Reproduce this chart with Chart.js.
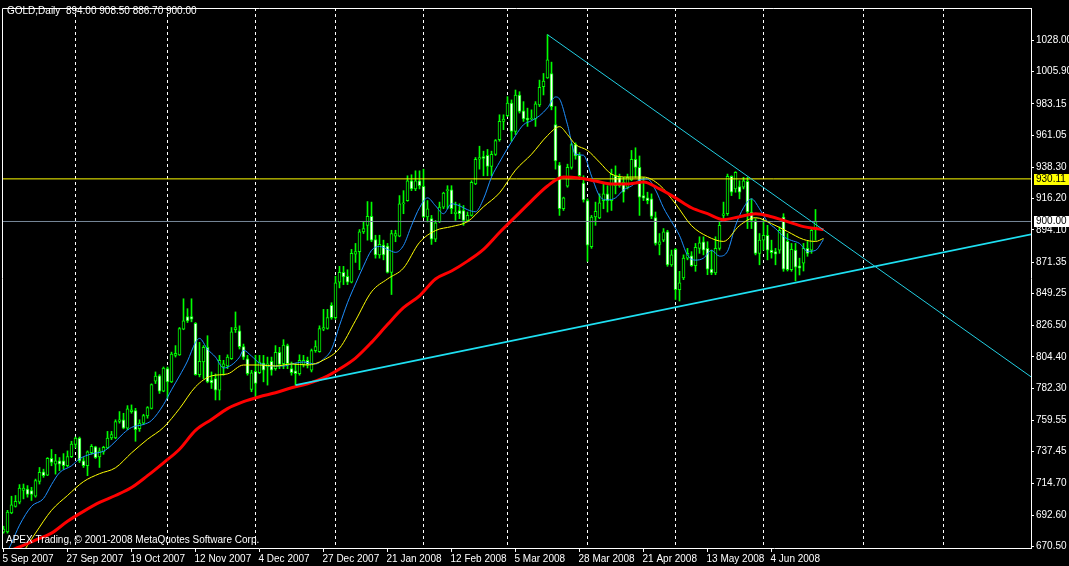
<!DOCTYPE html>
<html>
<head>
<meta charset="utf-8">
<script src="https://cdn.jsdelivr.net/npm/chart.js@4.4.0/dist/chart.umd.min.js"></script>
<style>
  html, body { margin: 0; padding: 0; background: #000; }
  canvas { display: block; }
</style>
</head>
<body>
<canvas id="chart" width="1069" height="566"></canvas>
<script>
const FONT = '"Liberation Sans", Arial, sans-serif';
const FONT_SIZE = 10;

// Daily candles, 5 Sep 2007 .. last bar
const opens = [680.5,680.7,694.0,698.7,701.7,709.9,711.0,709.9,705.9,716.4,
723.2,720.8,732.7,728.5,730.9,730.9,727.4,733.9,742.4,747.0,
730.9,727.4,736.7,740.7,733.7,737.2,740.0,747.0,747.0,758.7,
759.9,754.0,765.7,766.4,753.6,757.5,762.7,768.0,787.2,790.9,
780.2,796.0,786.7,805.4,805.8,823.9,832.8,832.8,828.1,791.8,
800.7,811.1,787.9,789.0,780.9,797.2,797.9,803.0,823.5,822.8,
811.6,803.0,781.3,794.2,793.2,800.0,797.2,801.2,796.0,807.6,
799.5,812.3,796.0,794.4,792.5,799.1,801.9,794.9,808.8,808.1,
823.9,824.4,840.7,832.1,857.1,864.1,861.3,857.1,877.0,878.7,
892.7,897.3,903.6,887.3,876.4,883.3,882.6,864.1,889.6,889.6,
912.5,914.8,928.8,923.0,928.8,924.9,903.2,902.0,887.5,899.7,
910.2,921.8,922.3,905.5,907.8,907.8,900.8,904.3,926.5,944.0,
945.9,946.8,938.9,947.4,957.9,970.7,974.7,983.6,963.7,989.4,
978.2,973.0,972.4,972.4,982.4,995.2,1001.5,1004.6,968.4,939.8,
909.0,924.9,938.2,954.4,946.8,927.2,914.8,882.2,903.2,902.5,
914.8,919.5,914.8,932.3,931.2,927.7,924.2,929.3,944.0,938.2,
918.3,916.7,916.0,902.7,883.8,886.8,892.7,869.4,880.3,851.9,
860.1,874.1,875.7,868.7,881.0,885.7,881.0,866.4,863.6,881.0,
904.3,905.5,931.9,923.0,924.6,924.2,928.4,906.7,900.4,877.5,
886.8,890.3,879.8,878.7,879.8,903.2,885.9,866.0,879.8,868.7,
870.6,881.0,879.8,894.0];

const highs = [684.7,695.9,705.9,706.4,714.1,714.5,713.4,712.2,718.0,726.2,
725.0,733.2,738.9,735.5,733.2,736.0,737.9,744.7,747.7,747.7,
733.2,737.9,742.4,741.2,740.0,741.2,751.7,751.7,759.9,765.7,
764.5,769.9,770.4,768.0,759.9,763.8,769.2,785.3,793.7,791.8,
797.2,797.2,807.7,812.3,825.1,845.4,838.4,845.4,828.6,814.6,
812.3,819.3,793.7,792.3,805.4,801.9,805.8,825.1,836.1,826.3,
813.4,805.4,794.9,805.4,805.4,805.4,804.2,804.2,812.3,811.1,
816.5,813.4,800.7,799.5,805.8,805.4,804.2,809.9,815.8,826.3,
837.9,837.9,842.6,861.3,868.3,868.3,865.9,880.3,884.5,894.3,
899.7,914.1,913.7,890.3,890.3,886.8,884.5,893.8,893.8,918.3,
921.8,932.3,933.0,935.8,935.8,937.0,914.8,904.3,900.8,913.7,
920.7,925.3,925.3,913.7,912.5,911.3,906.7,928.8,945.2,953.2,
949.7,950.9,949.7,957.9,975.4,975.4,988.2,985.9,992.9,991.7,
984.7,980.1,978.9,984.7,999.9,1004.6,1032.0,1012.6,981.2,941.7,
917.2,940.5,955.6,955.6,948.7,932.3,916.0,904.3,913.7,919.5,
926.5,925.3,937.0,939.3,933.5,931.2,933.5,950.2,952.1,946.3,
931.2,920.7,919.5,906.7,891.5,895.0,893.8,879.8,881.0,864.8,
876.4,881.0,878.7,884.5,889.2,889.2,885.7,879.8,889.2,899.7,
913.7,933.5,932.3,935.2,928.8,931.2,931.2,916.0,902.0,891.5,
900.8,897.3,886.8,881.0,896.2,905.5,891.5,884.5,884.5,874.1,
884.5,885.9,895.0,908.5];

const lows = [679.8,679.8,693.5,698.2,700.5,704.0,705.2,702.9,705.2,714.5,
719.2,720.4,727.4,721.5,723.9,725.0,726.7,733.2,740.0,729.7,
726.2,720.4,735.5,732.6,726.2,735.5,739.5,745.9,746.5,757.5,
753.5,752.9,764.5,744.7,751.7,756.4,761.0,767.5,785.5,778.5,
779.7,775.0,786.2,804.2,805.4,823.5,828.6,829.1,791.4,790.2,
789.0,786.0,782.0,773.9,773.9,791.4,796.0,802.5,821.6,809.9,
802.5,791.4,779.7,776.2,792.5,786.7,784.4,791.4,794.9,796.0,
796.0,796.0,791.4,784.4,791.4,797.2,796.5,793.7,807.6,807.6,
822.8,823.9,830.9,830.9,853.1,855.4,855.4,856.6,871.1,865.9,
891.5,886.8,885.7,874.1,874.1,872.9,863.6,848.4,885.7,889.2,
905.5,914.3,921.8,921.8,923.0,902.7,899.7,883.8,885.7,899.2,
909.0,909.0,905.5,900.8,902.0,897.3,899.7,903.8,926.0,937.0,
932.3,932.3,932.3,946.7,956.7,964.9,974.2,956.7,961.4,976.6,
970.7,967.2,971.9,967.2,981.2,989.4,1001.1,978.9,937.0,904.3,
907.8,924.2,937.0,944.0,930.0,913.7,871.8,881.0,897.3,902.0,
909.0,906.7,907.8,919.5,924.2,913.7,923.0,928.8,931.2,904.3,
914.8,912.5,902.0,883.3,876.4,885.7,868.3,868.3,844.9,843.8,
858.9,872.9,868.3,864.8,877.5,876.4,862.4,862.4,862.4,879.8,
900.8,904.3,918.3,920.7,916.0,923.0,895.0,895.0,876.4,869.4,
879.8,872.9,874.1,869.4,877.5,864.8,865.0,864.8,858.0,862.2,
865.0,875.4,877.5,886.7];

const closes = [682.6,694.7,699.8,702.2,711.7,711.7,707.1,707.1,716.9,722.7,
720.4,732.7,729.7,730.9,728.5,727.4,733.9,742.8,747.0,730.9,
727.4,737.2,741.2,733.2,737.9,740.5,747.0,749.4,758.7,759.9,
754.0,767.6,766.9,752.9,757.5,762.9,768.5,784.8,790.7,780.2,
796.5,786.7,806.4,806.9,824.4,829.8,829.8,830.9,791.8,801.2,
811.1,786.7,786.0,780.9,801.9,799.5,804.2,822.1,825.1,811.6,
804.2,792.5,793.0,785.5,800.7,794.9,799.5,794.9,807.6,799.1,
812.7,799.5,793.2,792.5,801.9,801.9,798.8,808.8,811.6,824.4,
825.1,832.1,832.1,856.6,864.1,860.8,857.1,877.5,878.7,892.7,
895.0,903.6,886.8,876.4,883.8,876.4,864.1,891.5,891.5,912.5,
913.2,928.8,923.0,928.8,925.3,903.2,909.0,887.5,899.0,910.2,
920.0,922.5,909.0,906.7,905.5,900.8,904.3,927.7,944.0,945.2,
944.5,938.9,947.4,957.2,970.7,972.4,983.6,963.7,989.4,977.7,
972.4,971.9,973.0,983.1,994.8,999.2,1014.3,981.2,942.8,909.0,
916.7,938.2,954.4,946.3,932.3,915.3,883.3,903.2,907.1,913.2,
919.5,914.8,933.3,925.3,925.3,920.7,931.2,944.0,938.2,917.2,
916.5,914.8,903.6,884.5,885.7,892.7,869.4,876.4,851.9,856.6,
874.1,877.5,868.7,881.7,885.0,879.8,866.4,863.6,881.0,897.3,
905.5,931.9,920.7,934.7,920.7,928.8,906.7,900.8,877.5,886.8,
890.3,879.8,878.0,876.9,893.8,866.4,866.0,880.3,867.8,867.1,
881.0,877.5,893.8,900.0];

// moving averages (bar index -> price)
const blueBars = [0,2,4,7,10,12,14,17,19,22,25,27,30,32,35,37,40,42,44,46,48,49,51,53,55,57,59,60,62,64,67,70,72,75,78,80,82,84,86,88,90,92,94,96,98,100,102,104,106,108,110,112,114,116,118,120,122,124,126,128,130,132,134,136,138,139,141,143,145,147,149,151,153,155,157,159,161,163,165,167,169,171,173,175,177,179,181,183,185,187,189,191,193,195,197,199,201,203,205];
const blueVals = [660.9,672.8,685.4,698.7,704.3,714.1,722.5,727.4,732.3,735.8,737.7,741.9,750.3,754.5,756.6,759.4,770.6,781.1,790.9,801.4,814.6,817.4,809.7,804.2,796.5,798.6,804.2,809.0,804.9,800.0,797.9,797.9,799.3,800.7,799.3,802.8,809.7,826.5,842.6,855.9,868.5,879.6,882.4,880.3,878.2,883.1,897.1,909.7,916.7,911.1,905.5,912.5,911.1,908.3,906.9,916.0,931.4,941.9,951.6,960.7,968.4,971.2,974.7,980.3,988.0,986.6,968.4,947.5,946.8,932.1,918.1,915.3,916.7,922.3,925.1,929.3,930.0,922.3,909.7,899.9,890.1,876.2,872.7,874.1,879.6,875.5,878.9,897.1,909.7,916.0,909.0,899.9,895.0,889.4,886.6,884.5,878.9,879.6,887.3];

const yellowBars = [0,4,8,12,16,20,24,28,32,36,40,44,48,52,56,60,64,68,72,76,80,84,88,92,96,100,104,108,112,116,120,124,128,132,136,139,141,143,146,149,152,156,160,164,168,172,176,180,184,188,192,196,200,203,205];
const yellowVals = [650.4,662.9,679.8,695.9,706.4,716.2,721.8,726.0,736.5,746.1,754.5,767.8,783.2,790.9,792.3,798.6,798.6,797.9,799.3,798.6,802.1,810.4,830.0,850.3,859.4,867.1,885.2,893.6,896.4,899.9,910.4,920.2,936.3,947.5,960.7,967.0,961.4,954.4,950.2,941.9,933.5,931.4,931.4,925.8,912.5,897.1,889.4,885.9,897.1,902.7,898.5,892.9,887.3,885.9,888.0];

const redBars = [0,4,8,12,16,20,24,28,32,36,40,44,48,52,56,60,64,68,72,76,80,84,88,92,96,100,104,108,112,116,120,124,128,132,136,140,144,148,152,156,160,164,168,172,176,180,184,188,192,196,200,203,205];
const redVals = [665.8,670.0,674.9,679.8,688.2,695.2,701.5,706.4,712.0,720.4,729.5,739.1,752.4,760.1,767.8,772.7,776.2,779.0,782.5,785.3,789.5,795.8,803.5,814.6,827.2,839.1,847.5,859.4,865.0,872.0,880.3,892.2,903.4,914.6,925.1,931.4,930.7,928.6,926.5,926.5,927.9,923.0,916.7,909.7,905.5,901.3,903.4,905.5,903.4,899.9,896.4,895.0,894.3];

// trend lines (bar index, price)
const downTrendBars = [136, 260];
const downTrendVals = [1032.0, 784.0];
const upTrendBars = [73, 260];
const upTrendVals = [784.4, 892.7];

// horizontal levels
const levelLine = 930.11;
const bidLine = 900.00;

// axes
const dateLabels = ['5 Sep 2007','27 Sep 2007','19 Oct 2007','12 Nov 2007','4 Dec 2007','27 Dec 2007','21 Jan 2008','12 Feb 2008','5 Mar 2008','28 Mar 2008','21 Apr 2008','13 May 2008','4 Jun 2008'];
const dateBars = [0,16,32,48,64,80,96,112,128,144,160,176,192];
const monthBars = [18,41,63,83,105,126,146,168,190,215,235];
const priceTicks = [670.50,692.60,714.70,737.45,759.55,782.30,804.40,826.50,849.25,871.35,894.10,916.20,938.30,961.05,983.15,1005.90,1028.00];

const xMin = -0.375, xMax = 256.875;
const yMin = 669.3, yMax = 1050.85;

const pts = (bars, vals) => bars.map((b, k) => ({ x: b, y: vals[k] }));
const idx = opens.map((_, i) => i);

const overlay = {
  id: 'overlay',
  afterDraw(chart) {
    const { ctx, chartArea: a, scales: { y } } = chart;
    ctx.save();
    ctx.strokeStyle = '#fff';
    ctx.lineWidth = 1;
    ctx.beginPath();
    ctx.moveTo(a.left + 0.5, a.bottom);
    ctx.lineTo(a.left + 0.5, a.top + 0.5);
    ctx.lineTo(a.right, a.top + 0.5);
    ctx.stroke();

    ctx.font = FONT_SIZE + 'px ' + FONT;
    ctx.fillStyle = '#fff';
    ctx.textBaseline = 'middle';
    ctx.textAlign = 'left';
    ctx.fillText('GOLD,Daily  894.00 908.50 886.70 900.00', 7, 11);
    ctx.fillText('APEX Trading, \u00a9 2001-2008 MetaQuotes Software Corp.', 6, 540);

    // price tags on the right scale
    [[levelLine, '#ffff00'], [bidLine, '#ffffff']].forEach(([v, bg]) => {
      const py = Math.round(y.getPixelForValue(v));
      ctx.fillStyle = bg;
      ctx.fillRect(a.right + 3, py - 5, 35, 11);
      ctx.fillStyle = '#000';
      ctx.fillText(v.toFixed(2), a.right + 5, py + 0.5);
    });
    ctx.restore();
  }
};

const line = (data, color, width) => ({
  type: 'line', data, borderColor: color, borderWidth: width,
  pointRadius: 0, fill: false, order: 0, tension: 0
});

new Chart(document.getElementById('chart'), {
  type: 'bar',
  data: {
    datasets: [
      line(pts(downTrendBars, downTrendVals), '#22cfe2', 1),
      line(pts(upTrendBars, upTrendVals), '#1ee0f2', 1.6),
      Object.assign(line(pts(redBars, redVals), '#ff0000', 3), { cubicInterpolationMode: 'monotone' }),
      Object.assign(line(pts(yellowBars, yellowVals), '#ffff00', 1), { cubicInterpolationMode: 'monotone' }),
      Object.assign(line(pts(blueBars, blueVals), '#1e90ff', 1), { cubicInterpolationMode: 'monotone' }),
      line([{ x: xMin, y: levelLine }, { x: xMax, y: levelLine }], '#ffff00', 1),
      line([{ x: xMin, y: bidLine }, { x: xMax, y: bidLine }], '#778899', 1),
      {
        type: 'bar',
        data: idx.map(i => ({ x: i, y: [opens[i], closes[i]] })),
        backgroundColor: idx.map(i => closes[i] >= opens[i] ? '#000000' : '#ffffff'),
        borderColor: '#00ff00',
        borderWidth: 1,
        borderSkipped: false,
        barThickness: 3,
        minBarLength: 1,
        grouped: false,
        order: 1
      },
      {
        type: 'bar',
        data: idx.map(i => ({ x: i, y: [lows[i], highs[i]] })),
        backgroundColor: '#00ff00',
        borderWidth: 0,
        barThickness: 1,
        grouped: false,
        order: 2
      }
    ]
  },
  options: {
    responsive: false,
    animation: false,
    events: [],
    layout: { padding: { left: 2, top: 2, right: 0, bottom: 0 } },
    plugins: { legend: { display: false }, tooltip: { enabled: false } },
    scales: {
      x: {
        type: 'linear', position: 'bottom', min: xMin, max: xMax, offset: false,
        afterFit: s => { s.height = 18; },
        afterBuildTicks: s => { s.ticks = dateBars.map(v => ({ value: v })); },
        ticks: {
          callback: (v, i) => dateLabels[i],
          color: '#fff', font: { family: FONT, size: FONT_SIZE },
          align: 'start', labelOffset: -1, padding: 1,
          autoSkip: false, maxRotation: 0, minRotation: 0
        },
        grid: { drawOnChartArea: false, drawTicks: true, tickLength: 4, tickColor: '#fff', offset: false },
        border: { color: '#fff', width: 1 }
      },
      xg: {
        type: 'linear', position: 'top', min: xMin, max: xMax, offset: false,
        afterFit: s => { s.height = 0; },
        afterBuildTicks: s => { s.ticks = monthBars.map(v => ({ value: v })); },
        ticks: { display: false },
        grid: { color: '#ffffff', lineWidth: 1, drawTicks: false, offset: false },
        border: { display: false, dash: [3, 3] }
      },
      y: {
        type: 'linear', position: 'right', min: yMin, max: yMax,
        afterFit: s => { s.width = 38; },
        afterBuildTicks: s => { s.ticks = priceTicks.map(v => ({ value: v })); },
        ticks: {
          callback: v => v.toFixed(2),
          color: '#fff', font: { family: FONT, size: FONT_SIZE },
          padding: 2, crossAlign: 'near'
        },
        grid: { drawOnChartArea: false, drawTicks: true, tickLength: 3, tickColor: '#fff' },
        border: { color: '#fff', width: 1 }
      }
    }
  },
  plugins: [overlay]
});
</script>
</body>
</html>
